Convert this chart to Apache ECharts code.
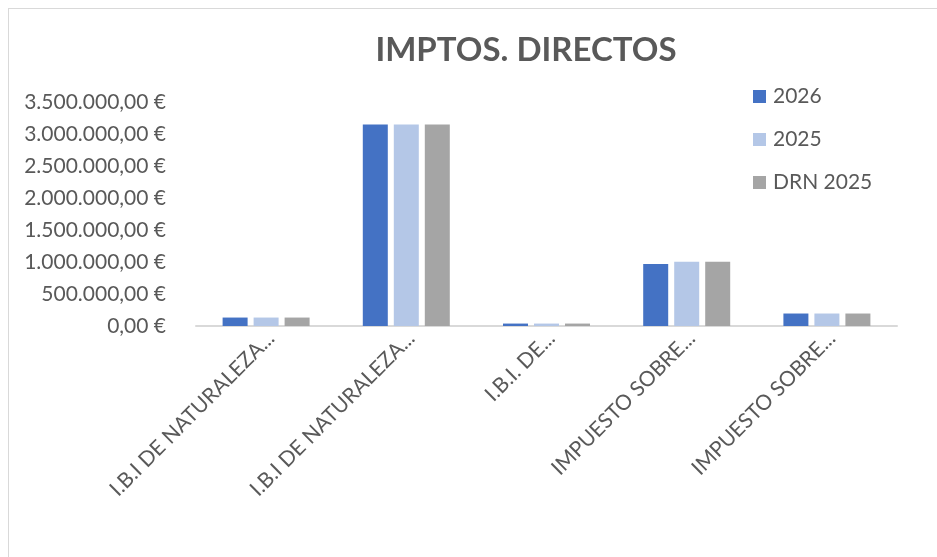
<!DOCTYPE html>
<html><head><meta charset="utf-8">
<script src="https://cdn.jsdelivr.net/npm/echarts@6/dist/echarts.min.js"></script>
<style>
html,body{margin:0;padding:0;background:#fff;}
#frame{position:absolute;left:8px;top:8px;width:960px;height:600px;border:1px solid #d9d9d9;box-sizing:border-box;}
#c{position:absolute;left:0;top:0;width:937px;height:557px;}
</style></head>
<body>
<div id="frame"></div>
<div id="c"></div>
<script>
const categories = ['I.B.I DE NATURALEZA...', 'I.B.I DE NATURALEZA...', 'I.B.I. DE...', 'IMPUESTO SOBRE...', 'IMPUESTO SOBRE...'];
const seriesNames = ['2026', '2025', 'DRN 2025'];
const values2026 = [132000, 3150000, 38000, 970000, 195000];
const values2025 = [132000, 3150000, 38000, 1005000, 195000];
const valuesDRN2025 = [132000, 3150000, 38000, 1005000, 195000];
const colors = ['#4472C4', '#B4C7E7', '#A5A5A5'];
const FONT = 'Lato, "Open Sans", sans-serif';

function fmtEuro(v){
  const s = Math.round(v).toString().replace(/\B(?=(\d{3})+(?!\d))/g, '.');
  return s + ',00 €';
}

const chart = echarts.init(document.getElementById('c'), null, {renderer:'canvas'});
const data = [values2026, values2025, valuesDRN2025];
chart.setOption({
  animation:false,
  backgroundColor:'transparent',
  title:{text:'IMPTOS. DIRECTOS', left:521, top:29, textAlign:'center',
    textStyle:{fontFamily:FONT, fontSize:33, fontWeight:'bold', color:'#595959'}},
  legend:{orient:'vertical', left:748, top:81, itemWidth:13, itemHeight:13, itemGap:22,
    icon:'rect', textStyle:{fontFamily:FONT, fontSize:21, color:'#595959', padding:[0,0,0,2]},
    data:seriesNames},
  grid:{left:196, right:40, top:102, bottom:231, containLabel:false},
  xAxis:{type:'category', data:categories,
    axisLine:{lineStyle:{color:'#d9d9d9', width:2}}, axisTick:{show:false},
    axisLabel:{rotate:45, interval:0, margin:14, padding:[14,-7,0,0], fontFamily:FONT, fontSize:21, color:'#595959'}},
  yAxis:{type:'value', min:0, max:3500000, interval:500000,
    axisLine:{show:false}, axisTick:{show:false}, splitLine:{show:false},
    axisLabel:{formatter:fmtEuro, margin:30, fontFamily:FONT, fontSize:21, color:'#595959'}},
  series: seriesNames.map((n,i)=>({
    name:n, type:'bar', data:data[i], barWidth:25, barGap:'24%',
    itemStyle:{color:colors[i]}
  }))
});
</script>
</body></html>
